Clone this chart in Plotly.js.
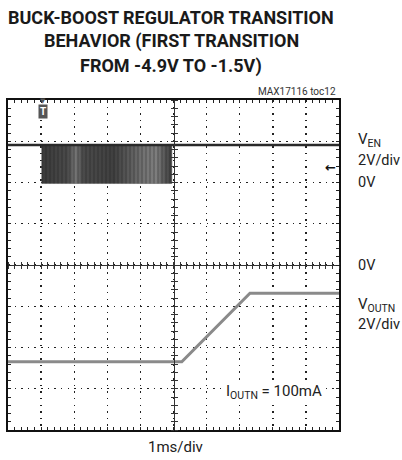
<!DOCTYPE html>
<html>
<head>
<meta charset="utf-8">
<script src="https://cdn.plot.ly/plotly-3.0.1.min.js"></script>
<style>
html,body{margin:0;padding:0;background:#fff;}
#chart{width:402px;height:460px;}
</style>
</head>
<body>
<div id="chart"></div>
<script>
// ---- data (time in ms, voltages in V) ----
var venTime = [0, 10];
var venLevel = [1.82, 1.82];
var burstTime = [1.02, 4.95, 4.95, 1.02, 1.02];
var burstLevel = [1.82, 1.82, -0.05, -0.05, 1.82];
var voutTime = [0, 5.25, 7.31, 10];
var voutLevel = [-4.69, -4.69, -1.37, -1.37];
var triggerTime = 1.05;
var triggerLevel = 0.75;
var titleLines = ["BUCK-BOOST REGULATOR TRANSITION", "BEHAVIOR (FIRST TRANSITION", "FROM -4.9V TO -1.5V)"];

var fam = 'Roboto, "DejaVu Sans", sans-serif';
function nf(size, extra) {
  var f = {family: fam, size: size, color: '#222'};
  for (var k in extra) f[k] = extra[k];
  return f;
}

var traces = [
  {x: burstTime, y: burstLevel, xaxis: 'x', yaxis: 'y2', mode: 'lines', fill: 'toself',
   line: {width: 0.5, color: '#555'}, fillcolor: '#555',
   fillgradient: {type: 'horizontal', colorscale: [[0,'#3a3a3a'],[0.2,'#4a4a4a'],[0.26,'#747474'],[0.32,'#4a4a4a'],[0.55,'#404040'],[0.66,'#585858'],[0.78,'#727272'],[0.88,'#7e7e7e'],[0.95,'#555'],[1,'#404040']]},
   hoverinfo: 'skip', showlegend: false},
  {x: burstTime, y: burstLevel, xaxis: 'x', yaxis: 'y2', mode: 'none', fill: 'toself',
   fillpattern: {shape: '|', size: 4, solidity: 0.35, fgcolor: 'rgba(20,20,20,0.55)', bgcolor: 'rgba(0,0,0,0)', fillmode: 'overlay'},
   fillcolor: 'rgba(0,0,0,0)', hoverinfo: 'skip', showlegend: false},
  {x: venTime, y: venLevel, xaxis: 'x', yaxis: 'y2', mode: 'lines',
   line: {width: 2.6, color: '#2a2a2a'}, showlegend: false},
  {x: voutTime, y: voutLevel, xaxis: 'x', yaxis: 'y', mode: 'lines',
   line: {width: 3, color: '#8a8a8a'}, showlegend: false},
  {x: [], y: [], xaxis: 'x2', yaxis: 'y', showlegend: false},
  {x: [], y: [], xaxis: 'x3', yaxis: 'y', showlegend: false},
  {x: [], y: [], xaxis: 'x', yaxis: 'y3', showlegend: false},
  {x: [], y: [], xaxis: 'x', yaxis: 'y4', showlegend: false}
];

var frameAxis = {
  showline: true, linewidth: 2, linecolor: '#111', mirror: 'allticks',
  ticks: 'inside', ticklen: 3, tickwidth: 1, tickcolor: '#222',
  showticklabels: false, zeroline: false, fixedrange: true,
  showgrid: true, gridcolor: '#222', gridwidth: 1.4
};

function centerAxis(extra) {
  var a = {showline: true, linewidth: 1, linecolor: '#333', ticks: 'outside', ticklen: 3,
    tickwidth: 1, tickcolor: '#333', showticklabels: false, showgrid: false, zeroline: false,
    anchor: 'free', position: 0.5, fixedrange: true};
  for (var k in extra) a[k] = extra[k];
  return a;
}

var annotations = [];
var titleY = [17, 41, 66];
for (var i = 0; i < titleLines.length; i++) {
  annotations.push({text: '<b>' + titleLines[i] + '</b>', xref: 'paper', yref: 'paper',
    x: (171 - 8) / 331, y: (430 - titleY[i]) / 330, xanchor: 'center', yanchor: 'middle',
    showarrow: false, font: nf(18, {color: '#1a1a1a', weight: 900})});
}
annotations = annotations.concat([
  {text: 'MAX17116 toc12', xref: 'paper', yref: 'paper', x: 0.997, y: 1.0, xanchor: 'right', yanchor: 'bottom',
   yshift: 1, showarrow: false, font: nf(10, {color: '#333'})},
  {text: '▼', xref: 'x', yref: 'paper', x: triggerTime, y: 1, xanchor: 'center', yanchor: 'middle', yshift: -1,
   showarrow: false, font: {family: '"DejaVu Sans"', size: 7, color: '#555'}},
  {text: '<b>T</b>', xref: 'x', yref: 'paper', x: triggerTime, y: 1, xanchor: 'center', yanchor: 'top', yshift: -4,
   showarrow: false, bgcolor: '#555', borderpad: 1, font: {family: fam, size: 10, color: '#fff'}},
  {text: '<b>←</b>', xref: 'paper', yref: 'y2', x: 0.997, y: triggerLevel, xanchor: 'right', yanchor: 'middle',
   showarrow: false, font: {family: '"DejaVu Sans"', size: 13, color: '#111'}},
  {text: 'V<sub>EN</sub>', xref: 'paper', yref: 'paper', x: 1.05, y: 0.879, xanchor: 'left', yanchor: 'middle',
   showarrow: false, font: nf(15)},
  {text: '2V/div', xref: 'paper', yref: 'paper', x: 1.05, y: 0.818, xanchor: 'left', yanchor: 'middle',
   showarrow: false, font: nf(14.5)},
  {text: '0V', xref: 'paper', yref: 'y2', x: 1.05, y: 0, xanchor: 'left', yanchor: 'middle',
   showarrow: false, font: nf(14.5)},
  {text: '0V', xref: 'paper', yref: 'y', x: 1.05, y: 0, xanchor: 'left', yanchor: 'middle',
   showarrow: false, font: nf(14.5)},
  {text: 'V<sub>OUTN</sub>', xref: 'paper', yref: 'paper', x: 1.05, y: 0.379, xanchor: 'left', yanchor: 'middle',
   showarrow: false, font: nf(15)},
  {text: '2V/div', xref: 'paper', yref: 'paper', x: 1.05, y: 0.321, xanchor: 'left', yanchor: 'middle',
   showarrow: false, font: nf(14.5)},
  {text: 'I<sub>OUTN</sub> = 100mA', xref: 'paper', yref: 'paper', x: 0.804, y: 0.115, xanchor: 'center', yanchor: 'middle',
   showarrow: false, bgcolor: '#fff', font: nf(15)},
  {text: '1ms/div', xref: 'paper', yref: 'paper', x: 0.505, y: -0.05, xanchor: 'center', yanchor: 'middle',
   showarrow: false, font: nf(15)}
]);

var layout = {
  width: 402, height: 460,
  margin: {l: 8, r: 63, t: 100, b: 30},
  paper_bgcolor: '#fff', plot_bgcolor: '#fff',
  showlegend: false,
  xaxis: Object.assign({}, frameAxis, {range: [0, 10], dtick: 1, griddash: '1.5px,5.12px',
    minor: {dtick: 0.2, ticks: 'inside', ticklen: 3, tickcolor: '#222', showgrid: false}}),
  yaxis: Object.assign({}, frameAxis, {range: [-8, 8], dtick: 2, griddash: '1.5px,5.12px',
    minor: {dtick: 0.4, ticks: 'inside', ticklen: 3, tickcolor: '#222', showgrid: false}}),
  yaxis2: {range: [-12, 4], overlaying: 'y', showgrid: false, showticklabels: false, zeroline: false,
    showline: false, ticks: '', fixedrange: true},
  xaxis2: centerAxis({overlaying: 'x', range: [0, 10], dtick: 1, side: 'bottom',
    minor: {dtick: 0.2, ticks: 'outside', ticklen: 3, tickcolor: '#333'}}),
  xaxis3: centerAxis({overlaying: 'x', range: [0, 10], dtick: 1, side: 'top',
    minor: {dtick: 0.2, ticks: 'outside', ticklen: 3, tickcolor: '#333'}}),
  yaxis3: centerAxis({overlaying: 'y', range: [-8, 8], dtick: 2, side: 'left',
    minor: {dtick: 0.4, ticks: 'outside', ticklen: 3, tickcolor: '#333'}}),
  yaxis4: centerAxis({overlaying: 'y', range: [-8, 8], dtick: 2, side: 'right',
    minor: {dtick: 0.4, ticks: 'outside', ticklen: 3, tickcolor: '#333'}}),
  annotations: annotations
};

Plotly.newPlot('chart', traces, layout, {staticPlot: true, displayModeBar: false});
</script>
</body>
</html>
